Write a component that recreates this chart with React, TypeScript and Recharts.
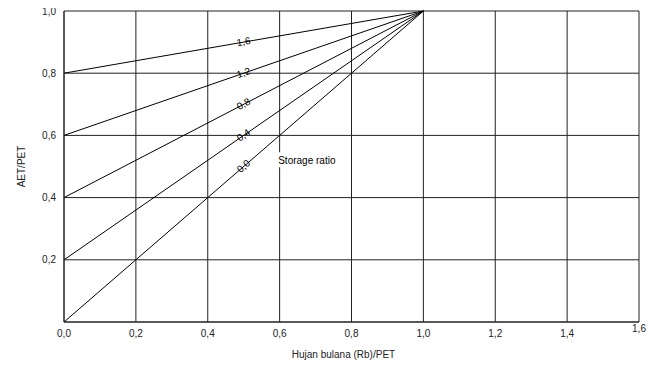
import React from 'react';
import {
  LineChart, Line, XAxis, YAxis, CartesianGrid, ReferenceDot, Label,
} from 'recharts';

const storageRatios = ['1,6', '1,2', '0,8', '0,4', '0,0'];
const intercepts = [0.8, 0.6, 0.4, 0.2, 0.0];
const xTicks = [0, 0.2, 0.4, 0.6, 0.8, 1.0, 1.2, 1.4, 1.6];
const yTicks = [0, 0.2, 0.4, 0.6, 0.8, 1.0];
const labelX = 0.5;

const FONT = '"Liberation Sans", Arial, sans-serif';
const W = 649;
const H = 365;
const PLOT_W = 575;
const PLOT_H = 311;

const fmt = (v: number) => v.toFixed(1).replace('.', ',');

function XTick(props: any) {
  const { x, y, payload } = props;
  const raised = payload.value === 1.6;
  return (
    <text x={x} y={y + (raised ? -5 : 0)} dy="0.71em" textAnchor="middle" fontSize={10} fill="#222" fontFamily={FONT}>
      {fmt(payload.value)}
    </text>
  );
}

function RatioLabel(text: string, b: number) {
  const angle = -Math.atan(((1 - b) * PLOT_H) / (PLOT_W / 1.6)) * 180 / Math.PI;
  return (props: any) => (
    <text
      x={props.cx}
      y={props.cy}
      dy={3}
      textAnchor="middle"
      fontSize={10}
      fill="#000"
      fontFamily={FONT}
      transform={`rotate(${angle}, ${props.cx}, ${props.cy})`}
    >
      {text}
    </text>
  );
}

function StorageText(props: any) {
  return (
    <g>
      <rect x={props.cx - 1} y={props.cy - 8} width={60} height={15} fill="#fff" />
      <text x={props.cx} y={props.cy} dy={3.5} fontSize={10} fill="#000" fontFamily={FONT}>
        Storage ratio
      </text>
    </g>
  );
}

export default function App() {
  return (
    <div style={{ width: W, height: H, marginTop: -8, fontFamily: FONT }}>
      <LineChart width={W} height={H} margin={{ top: 11, right: 18, left: 0, bottom: 13 }}>
        <CartesianGrid stroke="#222" strokeWidth={1} />
        <XAxis
          type="number"
          dataKey="x"
          domain={[0, 1.6]}
          ticks={xTicks}
          tick={<XTick />}
          tickLine={false}
          axisLine={{ stroke: '#222' }}
          height={30}
          interval={0}
        >
          <Label
            content={(p: any) => (
              <text x={p.viewBox.x + p.viewBox.width / 2 - 8} y={p.viewBox.y + 36} textAnchor="middle" fontSize={10} fill="#222" fontFamily={FONT}>
                Hujan bulana (Rb)/PET
              </text>
            )}
          />
        </XAxis>
        <YAxis
          type="number"
          domain={[0, 1]}
          ticks={yTicks}
          tickFormatter={(v: number) => (v === 0 ? '' : fmt(v))}
          tick={{ fontSize: 10, fill: '#222', fontFamily: FONT }}
          tickLine={false}
          axisLine={{ stroke: '#222' }}
          width={56}
          interval={0}
        >
          <Label
            content={(p: any) => {
              const cx = p.viewBox.x + 13;
              const cy = p.viewBox.y + p.viewBox.height / 2;
              return (
                <text x={cx} y={cy} dy={3.5} textAnchor="middle" fontSize={10} fill="#222" fontFamily={FONT} transform={`rotate(-90, ${cx}, ${cy})`}>
                  AET/PET
                </text>
              );
            }}
          />
        </YAxis>
        {intercepts.map((b, i) => (
          <Line
            key={i}
            data={[{ x: 0, y: b }, { x: 1, y: 1 }]}
            dataKey="y"
            type="linear"
            stroke="#000"
            strokeWidth={1}
            dot={false}
            activeDot={false}
            isAnimationActive={false}
          />
        ))}
        {intercepts.map((b, i) => (
          <ReferenceDot
            key={'l' + i}
            x={labelX}
            y={(1 + b) / 2}
            r={0}
            shape={RatioLabel(storageRatios[i], b)}
          />
        ))}
        <ReferenceDot x={0.596} y={0.52} r={0} shape={StorageText} />
      </LineChart>
    </div>
  );
}
